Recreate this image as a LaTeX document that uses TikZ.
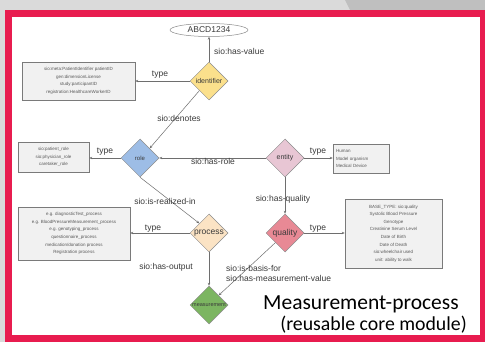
\documentclass[tikz,border=0pt]{standalone}
\usepackage{fontspec}
\setmainfont{Liberation Sans}
\newfontfamily\calibrifont{Carlito}
\usetikzlibrary{shapes.geometric,arrows.meta}

\definecolor{bggray}{HTML}{DADADA}
\definecolor{bgdark}{HTML}{BFBFBF}
\definecolor{framered}{HTML}{E81C4F}
\definecolor{diamondedge}{HTML}{8A8A8A}
\definecolor{boxedge}{HTML}{7A7A7A}
\definecolor{boxfill}{HTML}{F1F1F1}
\definecolor{linkgray}{HTML}{6E6E6E}
\definecolor{labelgray}{HTML}{3A3A3A}
\definecolor{idfill}{HTML}{FBE08C}
\definecolor{rolefill}{HTML}{9DBDE6}
\definecolor{entityfill}{HTML}{E8C6D4}
\definecolor{qualityfill}{HTML}{E88995}
\definecolor{processfill}{HTML}{FBE3C4}
\definecolor{measfill}{HTML}{7CB561}

\begin{document}
\begin{tikzpicture}[
  x=1pt, y=-1pt,
  cls/.style={diamond, aspect=1, draw=diamondedge, line width=0.5pt,
    minimum width=38pt, minimum height=38pt, inner sep=0pt, text=labelgray},
  typebox/.style={draw=boxedge, fill=boxfill, line width=0.5pt, inner sep=0pt,
    align=center, font=\fontsize{4.5}{7.6}\selectfont, text=black!65},
  link/.style={draw=linkgray, line width=0.5pt, -{Stealth[length=3pt,width=2.4pt]}},
  lbl/.style={font=\fontsize{8.5}{10}\selectfont, text=labelgray, inner sep=0pt},
]
\useasboundingbox (0,0) rectangle (485,342);

% slide background and frame
\fill[bggray] (0,0) rectangle (485,342);
\fill[bgdark] (345,0) -- (485,0) -- (485,12) -- (351,12) -- cycle;
\fill[framered] (5,10) rectangle (485,342);
\fill[white] (12.3,16.7) rectangle (480,334.5);

% value node
\node[ellipse, draw=diamondedge, line width=0.5pt, fill=white, minimum width=78pt,
  minimum height=13pt, inner sep=0pt, font=\fontsize{8.5}{10}\selectfont, text=labelgray]
  (value) at (209,30) {ABCD1234};

% classes
\node[cls, fill=idfill, font=\fontsize{7}{8}\selectfont] (identifier) at (209,81) {identifier};
\node[cls, fill=rolefill, font=\fontsize{6}{7}\selectfont] (role) at (140,158) {role};
\node[cls, fill=entityfill, font=\fontsize{7}{8}\selectfont] (entity) at (285,158) {entity};
\node[cls, fill=qualityfill, font=\fontsize{8.5}{10}\selectfont] (quality) at (285,233) {quality};
\node[cls, fill=processfill, font=\fontsize{8.5}{10}\selectfont] (process) at (209,233) {process};
\node[cls, fill=measfill, font=\fontsize{5.5}{6}\selectfont] (measurement) at (209,305) {measurement};

% type boxes
\node[typebox, minimum width=113pt, minimum height=38pt] (idbox) at (78.5,81)
  {sio:meta:PatientIdentifier patientID\\ gen:dimensionLicense\\ study:participantID\\ registration:HealthcareWorkerID};
\node[typebox, minimum width=71pt, minimum height=30pt] (rolebox) at (53.5,157)
  {sio:patient\_role\\ sio:physician\_role\\ caretaker\_role};
\node[typebox, minimum width=56pt, minimum height=29pt, text width=50pt, align=left] (entbox) at (361,158.5)
  {Human\\ Model organism\\ Medical Device};
\node[typebox, minimum width=97pt, minimum height=69pt] (qbox) at (393.5,233.5)
  {BASE\_TYPE: sio:quality\\ Systolic Blood Pressure\\ Genotype\\ Creatinine Serum Level\\ Date of Birth\\ Date of Death\\ sio:wheelchair used\\ unit: ability to walk};
\node[typebox, minimum width=112pt, minimum height=53pt] (pbox) at (74,233.5)
  {e.g. diagnosticTest\_process\\ e.g. BloodPressureMeasurement\_process\\ e.g. genotyping\_process\\ questionnaire\_process\\ medication/donation process\\ Registration process};

% relations
\draw[link] (identifier.north) -- (value.south);
\draw[link] (identifier.west) -- (identifier.west -| idbox.east);
\draw[link] (identifier.south west) -- (role.north east);
\draw[link] (role.west) -- (role.west -| rolebox.east);
\draw[link] (entity.west) -- (role.east);
\draw[link] (entity.east) -- (entity.east -| entbox.west);
\draw[link] (entity.south) -- (quality.north);
\draw[link] (quality.east) -- (quality.east -| qbox.west);
\draw[link] (role.south) -- (process.north west);
\draw[link] (process.west) -- (process.west -| pbox.east);
\draw[link] (process.south) -- (measurement.north);
\draw[link] (quality.south west) -- (measurement.north east);

% relation labels
\node[lbl, anchor=west] (lvalue) at (214,51) {sio:has-value};
\node[lbl] (ltid) at (160,75) {type};
\node[lbl] (ldenotes) at (179,118) {sio:denotes};
\node[lbl] (ltrole) at (105,152) {type};
\node[lbl] (lhasrole) at (213,161) {sio:has-role};
\node[lbl] (ltent) at (318,152) {type};
\node[lbl] (lhasq) at (283,199) {sio:has-quality};
\node[lbl] (lreal) at (165,201) {sio:is-realized-in};
\node[lbl] (ltproc) at (153,229) {type};
\node[lbl] (ltq) at (318,229) {type};
\node[lbl] (lout) at (166,267) {sio:has-output};
\node[lbl, anchor=west, align=left, font=\fontsize{8.5}{9.2}\selectfont] (lbasis) at (226,273.5)
  {sio:is-basis-for\\ sio:has-measurement-value};

% caption
\node[inner sep=0pt, anchor=base west, font=\calibrifont\fontsize{21.5}{24}\selectfont, text=black]
  (title) at (263,309.5) {Measurement-process};
\node[inner sep=0pt, anchor=base east, font=\calibrifont\fontsize{19.8}{22}\selectfont, text=black]
  (subtitle) at (467,330) {(reusable core module)};
\end{tikzpicture}
\end{document}
